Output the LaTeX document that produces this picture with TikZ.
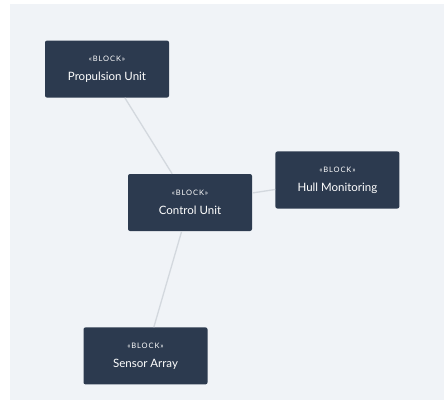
\documentclass[tikz,border=0pt]{standalone}
\usepackage{fontspec}
\setmainfont{Lato}
\usetikzlibrary{positioning}
\definecolor{canvas}{HTML}{F0F3F7}
\definecolor{blockfill}{HTML}{2C3A4F}
\definecolor{linkgray}{HTML}{D3D8DE}
\newcommand{\stereo}{{\fontsize{7.5}{9}\selectfont\addfontfeature{LetterSpace=12}«BLOCK»}}

\begin{document}
\begin{tikzpicture}[x=1pt, y=-1pt, node distance=20pt,
    block/.style={draw=none, fill=blockfill, rounded corners=2pt, text=white,
        minimum width=124pt, minimum height=57pt, align=center, inner sep=0pt,
        font=\fontsize{11.5}{13}\selectfont},
    link/.style={draw=linkgray, line width=1.3pt}
]
    \useasboundingbox (0,0) rectangle (447,401);
    \fill[white] (0,0) rectangle (447,401);
    \fill[canvas] (10,4) rectangle (444,400);

    \node[block] (ctrl) at (190,202.5) {\stereo\\[6pt] Control Unit};
    \node[block, above=76pt of ctrl, xshift=-83pt] (prop) {\stereo\\[6pt] Propulsion Unit};
    \node[block, right=23pt of ctrl, yshift=22.5pt] (hull) {\stereo\\[6pt] Hull Monitoring};
    \node[block, below=96pt of ctrl, xshift=-44.5pt] (sens) {\stereo\\[6pt] Sensor Array};

    \draw[link] (prop) -- (ctrl);
    \draw[link] (ctrl) -- (hull);
    \draw[link] (ctrl) -- (sens);
\end{tikzpicture}
\end{document}
